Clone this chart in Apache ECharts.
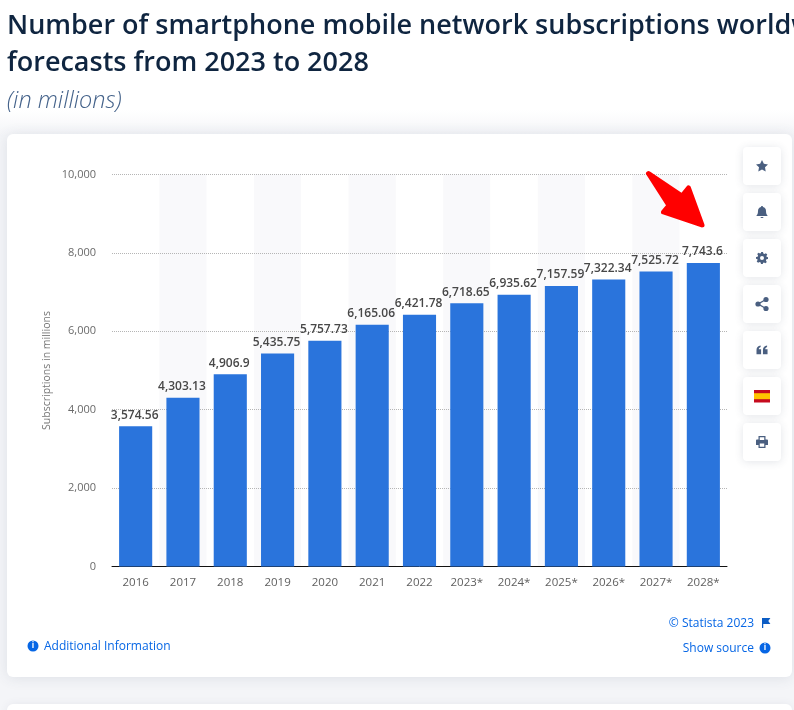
<!DOCTYPE html>
<html><head><meta charset="utf-8">
<style>html,body{margin:0;padding:0;background:#fff;overflow:hidden}#c{width:794px;height:710px}</style>
<script src="https://cdn.jsdelivr.net/npm/echarts@6/dist/echarts.min.js"></script>
</head><body><div id="c"></div>
<script>
const categories=['2016','2017','2018','2019','2020','2021','2022','2023*','2024*','2025*','2026*','2027*','2028*'];
const subscriptions=[3574.56,4303.13,4906.9,5435.75,5757.73,6165.06,6421.78,6718.65,6935.62,7157.59,7322.34,7525.72,7743.6];
const titleLines=['Number of smartphone mobile network subscriptions worldw','forecasts from 2023 to 2028'];
const subtitle='(in millions)';
const yAxisName='Subscriptions in millions';

const font='"Open Sans", sans-serif';
const fmt=v=>v.toLocaleString('en-US',{maximumFractionDigits:2});
const iconColor='#4a5f80', linkColor='#0666e5';

const iconPaths={
  star:'M12 0L15.7 7.6L24 8.8L18 14.7L19.4 23L12 19.1L4.6 23L6 14.7L0 8.8L8.3 7.6Z',
  bell:'M12 0C13.2 0 14 .8 14 2C18 3 20 6 20 10C20 15 21 17 23 19L23 20L1 20L1 19C3 17 4 15 4 10C4 6 6 3 10 2C10 .8 10.8 0 12 0ZM9 22L15 22C15 23.5 13.5 24 12 24C10.5 24 9 23.5 9 22Z',
  gear:'M10 0H14L14.7 3.2L17 4.2L19.8 2.4L22.6 5.2L20.8 8L21.8 10.3L24 10V14L20.8 14.7L19.8 17L21.6 19.8L18.8 22.6L16 20.8L13.7 21.8L14 24H10L9.3 20.8L7 19.8L4.2 21.6L1.4 18.8L3.2 16L2.2 13.7L0 14V10L3.2 9.3L4.2 7L2.4 4.2L5.2 1.4L8 3.2L10.3 2.2ZM12 8A4 4 0 1 0 12 16A4 4 0 1 0 12 8Z',
  quote:'M0 10C0 4 3 1 9 0V3C6 4 5 6 5 8H10V19H0ZM14 10C14 4 17 1 23 0V3C20 4 19 6 19 8H24V19H14Z',
  printer:'M5 0H19V7H22C23 7 24 8 24 9V18H19V24H5V18H0V9C0 8 1 7 2 7H5ZM7.5 2.5V8H16.5V2.5ZM7.5 15V21.5H16.5V15Z',
  flag:'M0 0V24H3V14H20L15 7L20 0Z'
};
Object.keys(iconPaths).forEach(k=>echarts.graphic.registerShape('ic_'+k,echarts.graphic.extendPath(iconPaths[k],{})));
const ic=(k,x,y,s,fill)=>({type:'ic_'+k,silent:true,x,y,scaleX:s,scaleY:s,style:{fill:fill||iconColor}});

function button(y,children){
  return {type:'group',x:743,y:y,silent:true,children:[
    {type:'rect',shape:{x:0,y:0,width:38,height:38,r:4},style:{fill:'#fff',shadowBlur:8,shadowColor:'rgba(60,70,100,0.14)',shadowOffsetY:1}}
  ].concat(children)};
}
const icons=[
  [ic('star',13,13,.5)],
  [ic('bell',13,13,.5)],
  [ic('gear',13,13,.5)],
  [{type:'circle',shape:{cx:23,cy:14.5,r:2.6},style:{fill:iconColor}},{type:'circle',shape:{cx:15,cy:19,r:2.6},style:{fill:iconColor}},{type:'circle',shape:{cx:23,cy:23.5,r:2.6},style:{fill:iconColor}},
   {type:'polyline',shape:{points:[[23,14.5],[15,19],[23,23.5]]},style:{stroke:iconColor,lineWidth:1.4,fill:null}}],
  [ic('quote',13.5,14.5,.46)],
  [{type:'rect',shape:{x:11,y:13,width:16,height:12.5},style:{fill:'#c60b1e'}},{type:'rect',shape:{x:11,y:16.2,width:16,height:6},style:{fill:'#ffc400'}}],
  [ic('printer',13,13,.5)]
];
const buttons=icons.map((c,i)=>button(147+46*i,c));

function info(cx,cy){return [
  {type:'circle',silent:true,shape:{cx,cy,r:5.5},style:{fill:linkColor}},
  {type:'text',silent:true,style:{x:cx,y:cy,text:'i',fill:'#fff',font:'bold 8px '+font,align:'center',verticalAlign:'middle'}}
];}
const text=(x,y,t,f,fill,align)=>({type:'text',silent:true,style:{x,y,text:t,font:f,fill,align:align||'left',verticalAlign:'middle'}});

const chart=echarts.init(document.getElementById('c'),null,{renderer:'canvas',width:794,height:710});
chart.setOption({
  animation:false,
  backgroundColor:{type:'linear',x:0,y:0,x2:0,y2:1,colorStops:[{offset:0,color:'#ffffff'},{offset:0.155,color:'#ffffff'},{offset:0.19,color:'#f4f5f8'},{offset:1,color:'#f4f5f8'}]},
  grid:{left:112,right:67,top:174.6,height:391.8,containLabel:false},
  xAxis:{type:'category',data:categories,z:0,
    axisLine:{lineStyle:{color:'#111',width:1},onZero:false},axisTick:{show:false},
    axisLabel:{color:'#5f5f5f',fontFamily:font,fontSize:11.5,margin:10.5},
    splitArea:{show:true,interval:0,areaStyle:{color:['#ffffff','#f9f9fb']}}},
  yAxis:{type:'value',min:0,max:10000,interval:2000,z:1,
    name:yAxisName,nameLocation:'middle',nameGap:59,nameRotate:90,nameMoveOverlap:false,
    nameTextStyle:{color:'#777',fontFamily:font,fontSize:10.5},
    axisLine:{show:false},axisTick:{show:false},
    axisLabel:{color:'#6a6a6a',fontFamily:font,fontSize:11,margin:16,formatter:fmt},
    splitLine:{showMinLine:false,lineStyle:{color:'#b5b5b5',type:'dotted',width:1}}},
  series:[{type:'bar',data:subscriptions,barWidth:'70%',z:4,
    itemStyle:{color:'#2a74dc'},
    label:{show:true,position:'top',distance:5,offset:[-1,0],color:'#484848',fontFamily:font,fontSize:12,fontWeight:600,formatter:o=>fmt(o.value)}}],
  graphic:{elements:[
    {type:'rect',z:-10,silent:true,shape:{x:7,y:134,width:785,height:543,r:6},style:{fill:'#fff',shadowBlur:14,shadowColor:'rgba(60,70,100,0.12)',shadowOffsetY:1}},
    {type:'rect',z:-10,silent:true,shape:{x:7,y:704,width:785,height:30,r:6},style:{fill:'#fff',shadowBlur:8,shadowColor:'rgba(60,70,100,0.08)'}},
    text(7,26,titleLines[0],'600 27px '+font,'#0f2540'),
    text(7,63,titleLines[1],'600 27px '+font,'#0f2540'),
    text(7,101,subtitle,'italic 300 23.5px '+font,'#44628a'),
    {type:'polygon',silent:true,z:20,shape:{points:[[648.5,173.5],[682,196],[688.5,188],[702,225],[663.5,212],[669,205.5]]},style:{fill:'#ff0000',stroke:'#ff0000',lineWidth:5,lineJoin:'round'}},
    ...buttons,
    ...info(33,646),
    text(44,647,'Additional Information','12px '+font,linkColor),
    text(754,624,'© Statista 2023','12px '+font,linkColor,'right'),
    ic('flag',762,618,.42,'#0b5cc4'),
    text(754,649,'Show source','12px '+font,linkColor,'right'),
    ...info(765,648)
  ]}
});
</script></body></html>
